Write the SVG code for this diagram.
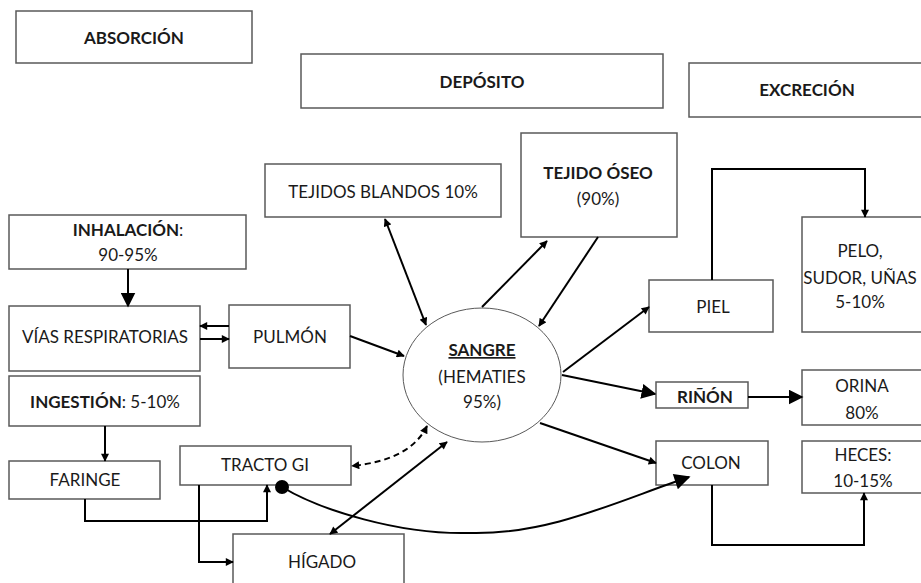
<svg xmlns="http://www.w3.org/2000/svg" width="921" height="583" viewBox="0 0 921 583">
<defs>
<style>
.box{fill:#fff;stroke:#595959;stroke-width:1.5}
.t{font-family:Lato,"Liberation Sans",sans-serif;font-size:17px;fill:#1a1a1a;text-anchor:middle}
.b{font-weight:bold}
.ln{fill:none;stroke:#000;stroke-width:2}
</style>
<marker id="ah" viewBox="0 0 10 10" refX="9" refY="5" markerWidth="9" markerHeight="8" markerUnits="userSpaceOnUse" orient="auto-start-reverse"><path d="M0,0L10,5L0,10z" fill="#000"/></marker>
<marker id="ahb" viewBox="0 0 10 10" refX="9" refY="5" markerWidth="15" markerHeight="15" markerUnits="userSpaceOnUse" orient="auto-start-reverse"><path d="M0,0L10,5L0,10z" fill="#000"/></marker>
<marker id="ahc" viewBox="0 0 10 10" refX="9" refY="5" markerWidth="20" markerHeight="16" markerUnits="userSpaceOnUse" orient="auto-start-reverse"><path d="M0,0L10,5L0,10z" fill="#000"/></marker>
</defs>

<g id="absorcion"><rect class="box" x="16" y="11" width="236" height="52"/><text class="t b" x="134" y="44">ABSORCIÓN</text></g>
<g id="deposito"><rect class="box" x="301" y="54" width="362" height="54"/><text class="t b" x="482" y="88">DEPÓSITO</text></g>
<g id="excrecion"><rect class="box" x="689" y="63" width="240" height="54"/><text class="t b" x="807" y="96">EXCRECIÓN</text></g>

<g id="inhalacion"><rect class="box" x="9" y="215" width="237" height="54"/><text class="t" x="128" y="236"><tspan class="b">INHALACIÓN</tspan>:</text><text class="t" x="128" y="261">90-95%</text></g>
<g id="vias"><rect class="box" x="9" y="306" width="191" height="65"/><text class="t" x="105" y="343">VÍAS RESPIRATORIAS</text></g>
<g id="pulmon"><rect class="box" x="229" y="305" width="121" height="63"/><text class="t" x="290" y="343">PULMÓN</text></g>
<g id="ingestion"><rect class="box" x="9" y="376" width="191" height="50"/><text class="t" x="105" y="408"><tspan class="b">INGESTIÓN</tspan>: 5-10%</text></g>
<g id="faringe"><rect class="box" x="9" y="461" width="151" height="38"/><text class="t" x="85" y="486">FARINGE</text></g>
<g id="tracto"><rect class="box" x="180" y="446" width="171" height="39"/><text class="t" x="265" y="471">TRACTO GI</text></g>
<g id="higado"><rect class="box" x="233" y="534" width="171" height="60"/><text class="t" x="322" y="568">HÍGADO</text></g>

<g id="tejidos"><rect class="box" x="265" y="164" width="236" height="53"/><text class="t" x="383" y="198">TEJIDOS BLANDOS 10%</text></g>
<g id="oseo"><rect class="box" x="521" y="133" width="156" height="104"/><text class="t b" x="598" y="179">TEJIDO ÓSEO</text><text class="t" x="598" y="205">(90%)</text></g>
<g id="sangre"><ellipse cx="482" cy="375" rx="79" ry="67" fill="#fff" stroke="#595959" stroke-width="1"/><text class="t b" x="482" y="356" text-decoration="underline">SANGRE</text><text class="t" x="482" y="383">(HEMATIES</text><text class="t" x="482" y="408">95%)</text></g>

<g id="piel"><rect class="box" x="649" y="280" width="124" height="52"/><text class="t" x="713" y="313">PIEL</text></g>
<g id="pelo"><rect class="box" x="802" y="217" width="125" height="115"/><text class="t" x="860" y="257">PELO,</text><text class="t" x="860" y="284">SUDOR, UÑAS</text><text class="t" x="860" y="308">5-10%</text></g>
<g id="rinon"><rect class="box" x="656" y="382" width="92" height="26"/><text class="t b" x="705" y="403">RIÑÓN</text></g>
<g id="orina"><rect class="box" x="802" y="370" width="125" height="55"/><text class="t" x="862" y="392">ORINA</text><text class="t" x="862" y="419">80%</text></g>
<g id="colon"><rect class="box" x="656" y="441" width="112" height="44"/><text class="t" x="711" y="469">COLON</text></g>
<g id="heces"><rect class="box" x="802" y="441" width="125" height="52"/><text class="t" x="863" y="461">HECES:</text><text class="t" x="863" y="487">10-15%</text></g>

<g id="connectors">
<path class="ln" d="M128,269L128,306" stroke-width="4" marker-end="url(#ahb)"/>
<path class="ln" d="M229,326L200,326" stroke-width="2.5" marker-end="url(#ah)"/>
<path class="ln" d="M200,339L229,339" stroke-width="2.5" marker-end="url(#ah)"/>
<path class="ln" d="M350,336L404,356" marker-end="url(#ah)"/>
<path class="ln" d="M385,219L426,325" stroke-width="3" marker-start="url(#ah)" marker-end="url(#ah)"/>
<path class="ln" d="M482,307L547,241" marker-end="url(#ah)"/>
<path class="ln" d="M598,237L539,326" marker-end="url(#ah)"/>
<path class="ln" d="M563,372L649,307" marker-end="url(#ah)"/>
<path class="ln" d="M562,375L655,394" stroke-width="5" marker-end="url(#ahb)"/>
<path class="ln" d="M748,397L802,397" stroke-width="5" marker-end="url(#ahb)"/>
<path class="ln" d="M712,280V169H865V217" marker-end="url(#ah)"/>
<path class="ln" d="M540,423L656,463" marker-end="url(#ah)"/>
<path class="ln" d="M712,485V545H864V493" stroke-width="2.5" marker-end="url(#ah)"/>
<path class="ln" d="M105,426V461" marker-end="url(#ah)"/>
<path class="ln" d="M85,499V521H267V485" stroke-width="2.5" marker-end="url(#ah)"/>
<path class="ln" d="M199,485V562H233" stroke-width="2.5" marker-end="url(#ah)"/>
<path class="ln" d="M427,426C415,450 390,462 352,466" stroke-width="2.5" stroke-dasharray="6,4" marker-start="url(#ah)" marker-end="url(#ah)"/>
<path class="ln" d="M447,442L330,534" marker-start="url(#ah)" marker-end="url(#ah)"/>
<path class="ln" d="M282,487C320,510 400,535 470,533C550,535 620,500 689,477" stroke-width="2.5" marker-end="url(#ahc)"/>
<circle cx="282" cy="487" r="7" fill="#000"/>
</g>
</svg>
